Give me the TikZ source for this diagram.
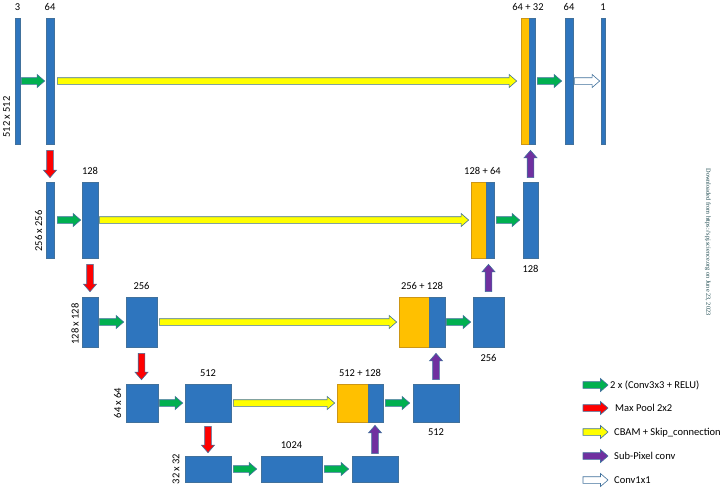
\documentclass[tikz,border=0pt]{standalone}
\usepackage{fontspec}
\setmainfont{Carlito}
\newfontfamily\wmfont{Liberation Serif}
\usetikzlibrary{calc}

\definecolor{barblue}{RGB}{46,117,190}
\definecolor{barline}{RGB}{65,113,156}
\definecolor{catorange}{RGB}{255,192,0}
\definecolor{catline}{RGB}{205,150,20}
\definecolor{agreen}{RGB}{0,176,80}
\definecolor{ared}{RGB}{255,0,0}
\definecolor{ayellow}{RGB}{255,255,0}
\definecolor{apurple}{RGB}{112,48,160}
\definecolor{aline}{RGB}{65,113,156}
\definecolor{wmcolor}{RGB}{25,70,75}

\tikzset{
  bar/.style={rectangle, draw=barline, fill=barblue, line width=0.7pt, inner sep=0pt},
  catbar/.style={rectangle, draw=catline, fill=catorange, line width=0.7pt, inner sep=0pt},
  lbl/.style={inner sep=0pt, font=\fontsize{10.5}{12}\selectfont},
  leg/.style={inner sep=0pt, anchor=base west, font=\fontsize{10.5}{12}\selectfont},
  side/.style={inner sep=0pt, rotate=90, font=\fontsize{10.5}{12}\selectfont},
  blk/.style={draw=aline, line width=0.6pt, fill=#1, line join=miter,
    to path={let \p1=(\tikztostart), \p2=(\tikztotarget),
      \n1={atan2(\y2-\y1,\x2-\x1)}, \n2={veclen(\x2-\x1,\y2-\y1)} in
      ([shift={(\p1)},rotate=\n1]0,3.3)
      -- ([shift={(\p1)},rotate=\n1]{\n2-7.5},3.3)
      -- ([shift={(\p1)},rotate=\n1]{\n2-7.5},6.5)
      -- ([shift={(\p1)},rotate=\n1]\n2,0)
      -- ([shift={(\p1)},rotate=\n1]{\n2-7.5},-6.5)
      -- ([shift={(\p1)},rotate=\n1]{\n2-7.5},-3.3)
      -- ([shift={(\p1)},rotate=\n1]0,-3.3) -- cycle}},
}

\begin{document}
\begin{tikzpicture}[x=1pt,y=-1pt]
\useasboundingbox (0,0) rectangle (727,491);

% ---------- row 1 : 512 x 512 ----------
\node[bar, minimum width=5pt, minimum height=126pt] (in1) at (17.5,81) {};
\node[bar, minimum width=8pt, minimum height=126pt] (e1) at (50,81) {};
\node[catbar, minimum width=8pt, minimum height=126pt] (c1o) at (525,81) {};
\node[bar, minimum width=6pt, minimum height=126pt] (c1b) at (532,81) {};
\node[bar, minimum width=8pt, minimum height=126pt] (d1) at (569,81) {};
\node[bar, minimum width=4pt, minimum height=126pt] (o1) at (603,81) {};

% ---------- row 2 : 256 x 256 ----------
\node[bar, minimum width=8pt, minimum height=76pt] (e2a) at (50,220) {};
\node[bar, minimum width=16pt, minimum height=76pt] (e2b) at (90,220) {};
\node[catbar, minimum width=15pt, minimum height=76pt] (c2o) at (478.5,220) {};
\node[bar, minimum width=8pt, minimum height=76pt] (c2b) at (490,220) {};
\node[bar, minimum width=15pt, minimum height=76pt] (d2) at (530.5,220) {};

% ---------- row 3 : 128 x 128 ----------
\node[bar, minimum width=16pt, minimum height=50pt] (e3a) at (90,322) {};
\node[bar, minimum width=31pt, minimum height=50pt] (e3b) at (141.5,322) {};
\node[catbar, minimum width=30pt, minimum height=50pt] (c3o) at (414,322) {};
\node[bar, minimum width=16pt, minimum height=50pt] (c3b) at (437,322) {};
\node[bar, minimum width=31pt, minimum height=50pt] (d3) at (488.5,322) {};

% ---------- row 4 : 64 x 64 ----------
\node[bar, minimum width=32pt, minimum height=38pt] (e4a) at (142,403) {};
\node[bar, minimum width=46pt, minimum height=38pt] (e4b) at (208,403) {};
\node[catbar, minimum width=31pt, minimum height=38pt] (c4o) at (352.5,403) {};
\node[bar, minimum width=15pt, minimum height=38pt] (c4b) at (375.5,403) {};
\node[bar, minimum width=46pt, minimum height=38pt] (d4) at (436,403) {};

% ---------- row 5 : 32 x 32 ----------
\node[bar, minimum width=46pt, minimum height=26pt] (e5a) at (208,469) {};
\node[bar, minimum width=61pt, minimum height=26pt] (e5b) at (291.5,469) {};
\node[bar, minimum width=46pt, minimum height=26pt] (e5c) at (375,469) {};

% ---------- labels ----------
\node[lbl, above=6.5pt] (t3) at (in1.north) {3};
\node[lbl, above=6.5pt] (t64) at (e1.north) {64};
\node[lbl, above=6.5pt] (t6432) at ($(c1o.north west)!0.5!(c1b.north east)$) {64 + 32};
\node[lbl, above=6.5pt] (t64b) at (d1.north) {64};
\node[lbl, above=6.5pt] (t1) at (o1.north) {1};
\node[lbl, above=6.5pt] (t128) at (e2b.north) {128};
\node[lbl, above=6.5pt] (t12864) at ($(c2o.north west)!0.5!(c2b.north east)$) {128 + 64};
\node[lbl, below=6.5pt] (b128) at (d2.south) {128};
\node[lbl, above=6.5pt] (t256) at (e3b.north) {256};
\node[lbl, above=6.5pt] (t256128) at ($(c3o.north west)!0.5!(c3b.north east)$) {256 + 128};
\node[lbl, below=6.5pt] (b256) at (d3.south) {256};
\node[lbl, above=6.5pt] (t512) at (e4b.north) {512};
\node[lbl, above=6.5pt] (t512128) at ($(c4o.north west)!0.5!(c4b.north east)$) {512 + 128};
\node[lbl, below=6.5pt] (b512) at (d4.south) {512};
\node[lbl, above=6.5pt] (t1024) at (e5b.north) {1024};

\node[side] (s1) at (6.5,117) {512 x 512};
\node[side] (s2) at (38.5,231) {256 x 256};
\node[side] (s3) at (75,324) {128 x 128};
\node[side] (s4) at (117.5,403) {64 x 64};
\node[side] (s5) at (176,469) {32 x 32};

% ---------- horizontal arrows ----------
\draw[blk=agreen] ([xshift=1pt]in1.east) to ([xshift=-1pt]e1.west);
\draw[blk=ayellow] ([xshift=3pt]e1.east) to ([xshift=-4pt]c1o.west);
\draw[blk=agreen] ([xshift=2pt]c1b.east) to ([xshift=-3pt]d1.west);
\draw[blk=white] ([xshift=1pt]d1.east) to ([xshift=-1pt]o1.west);

\draw[blk=agreen] ([xshift=3pt]e2a.east) to ([xshift=-1pt]e2b.west);
\draw[blk=ayellow] ([xshift=1pt]e2b.east) to ([xshift=-2pt]c2o.west);
\draw[blk=agreen] ([xshift=2pt]c2b.east) to ([xshift=-3pt]d2.west);

\draw[blk=agreen] ([xshift=1pt]e3a.east) to ([xshift=-2pt]e3b.west);
\draw[blk=ayellow] ([xshift=2pt]e3b.east) to ([xshift=-2pt]c3o.west);
\draw[blk=agreen] ([xshift=1pt]c3b.east) to ([xshift=-2pt]d3.west);

\draw[blk=agreen] ([xshift=1pt]e4a.east) to ([xshift=-2pt]e4b.west);
\draw[blk=ayellow] ([xshift=2pt]e4b.east) to ([xshift=-2pt]c4o.west);
\draw[blk=agreen] ([xshift=2pt]c4b.east) to ([xshift=-3pt]d4.west);

\draw[blk=agreen] ([xshift=2pt]e5a.east) to ([xshift=-4pt]e5b.west);
\draw[blk=agreen] ([xshift=2pt]e5b.east) to ([xshift=-3pt]e5c.west);

% ---------- vertical arrows ----------
\draw[blk=ared] ([yshift=-6pt]e1.south) to ([yshift=4pt]e2a.north);
\draw[blk=ared] ([yshift=-6pt]e2b.south) to ([yshift=5pt]e3a.north);
\draw[blk=ared] ([yshift=-6pt]e3b.south) to ([yshift=4pt]e3b.south |- e4a.north);
\draw[blk=ared] ([yshift=-4pt]e4b.south) to ([yshift=3pt]e5a.north);

\draw[blk=apurple] ([yshift=4pt]d2.north) to ([yshift=-6pt]d2.north |- c1b.south);
\draw[blk=apurple] ([yshift=5pt]d3.north) to ([yshift=-6pt]d3.north |- c2b.south);
\draw[blk=apurple] ([yshift=4pt]d4.north) to ([yshift=-6pt]d4.north |- c3b.south);
\draw[blk=apurple] ([yshift=2pt]e5c.north) to ([yshift=-3pt]e5c.north |- c4b.south);

% ---------- legend ----------
\coordinate (lg1s) at (583,385); \coordinate (lg1e) at (608,385);
\coordinate (lg2s) at (583,408); \coordinate (lg2e) at (608,408);
\coordinate (lg3s) at (583,432); \coordinate (lg3e) at (608,432);
\coordinate (lg4s) at (583,456); \coordinate (lg4e) at (608,456);
\coordinate (lg5s) at (583,480); \coordinate (lg5e) at (608,480);
\draw[blk=agreen] (lg1s) to (lg1e);
\draw[blk=ared] (lg2s) to (lg2e);
\draw[blk=ayellow] (lg3s) to (lg3e);
\draw[blk=apurple] (lg4s) to (lg4e);
\draw[blk=white] (lg5s) to (lg5e);
\node[leg] (lt1) at (610,388.7) {2 x (Conv3x3 + RELU)};
\node[leg] (lt2) at (615,411.7) {Max Pool 2x2};
\node[leg] (lt3) at (614,435.7) {CBAM + Skip\_connection};
\node[leg] (lt4) at (614,459.7) {Sub-Pixel conv};
\node[leg] (lt5) at (614,483.7) {Conv1x1};

% ---------- watermark ----------
\node[rotate=-90, inner sep=0pt, text=wmcolor, font=\wmfont\fontsize{6.3}{7}\selectfont] (wm) at (708,242) {Downloaded from https://spj.science.org on June 23, 2023};
\end{tikzpicture}
\end{document}
